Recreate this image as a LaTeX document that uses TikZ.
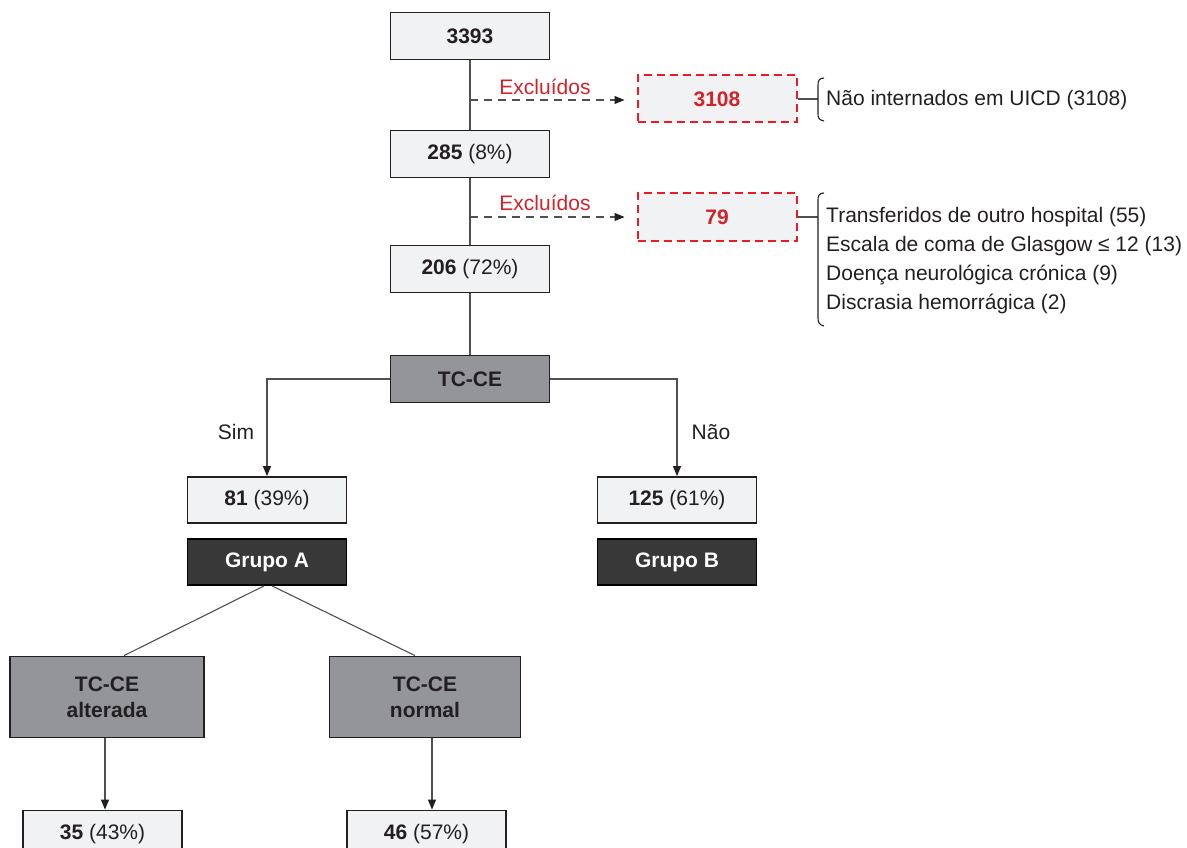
\documentclass[tikz,border=0pt]{standalone}
\usepackage{fontspec}
\setmainfont{Liberation Sans}
\usetikzlibrary{arrows.meta}
\definecolor{lightbox}{HTML}{F1F2F4}
\definecolor{midbox}{HTML}{939598}
\definecolor{darkbox}{HTML}{383838}
\definecolor{txt}{HTML}{231F20}
\definecolor{redt}{HTML}{D2232A}
\definecolor{redd}{HTML}{ED1C24}
\definecolor{conn}{HTML}{505050}
\begin{document}
\begin{tikzpicture}[x=1pt,y=-1pt,
  font=\fontsize{21}{25}\selectfont, text=txt,
  box/.style={draw=txt, line width=1.8pt, fill=lightbox, minimum width=159pt, minimum height=47pt, inner sep=0pt},
  exbox/.style={draw=redd, dashed, dash pattern=on 8pt off 5pt, line width=2pt, fill=lightbox, minimum width=159pt, minimum height=47pt, inner sep=0pt, text=redt},
  midb/.style={draw=txt, line width=1.8pt, fill=midbox, minimum width=159pt, minimum height=47pt, inner sep=0pt},
  midtall/.style={draw=txt, line width=1.8pt, fill=midbox, minimum height=81pt, inner sep=0pt, align=center, font=\fontsize{21}{26}\selectfont\bfseries},
  darkb/.style={draw=black, line width=1.8pt, fill=darkbox, minimum width=159pt, minimum height=46pt, inner sep=0pt, text=white},
  conn/.style={draw=conn, line width=1.1pt},
  arr/.style={conn, -{Triangle[length=10pt,width=8pt,color=txt]}},
  dasharr/.style={conn, dash pattern=on 8pt off 6pt, -{Triangle[length=10pt,width=8pt,color=txt]}},
  lbl/.style={inner sep=0pt},
  brace/.style={draw=txt, line width=1.1pt}
]
\useasboundingbox (0,0) rectangle (1187,848);
\clip (0,0) rectangle (1187,848);

% main column
\node[box] (n1) at (470,36) {\textbf{3393}};
\node[box] (n2) at (470,154) {\textbf{285} (8\%)};
\node[box] (n3) at (470,269) {\textbf{206} (72\%)};
\node[midb] (tc) at (470,379) {\textbf{TC-CE}};

% exclusions
\node[exbox] (e1) at (717,99) {\textbf{3108}};
\node[exbox] (e2) at (717,217) {\textbf{79}};
\node[lbl, text=redt] (x1) at (545,87) {Exclu\'idos};
\node[lbl, text=redt] (x2) at (545,203) {Exclu\'idos};

\coordinate (d1) at (470,100);
\coordinate (d2) at (470,217);
\draw[dasharr, shorten >=12pt] (d1) -- (d1 -| e1.west);
\draw[dasharr, shorten >=12pt] (d2) -- (e2.west);

% braces and reasons
\coordinate (b1) at (818,99);
\coordinate (b2) at (818,217);
\draw[conn] (e1.east) -- (b1);
\draw[conn] (e2.east) -- (b2);
\draw[brace] (824,78) .. controls (819,78) and (818,81) .. (818,85) -- (818,114) .. controls (818,118) and (819,120) .. (824,121);
\draw[brace] (824,193) .. controls (819,193) and (818,196) .. (818,200) -- (818,318) .. controls (818,322) and (819,325) .. (824,326);
\node[lbl, anchor=west] (r1) at (826,100.5) {N\~ao internados em UICD (3108)};
\node[lbl, anchor=west, align=left, font=\fontsize{21}{29}\selectfont] (r2) at (826,261)
  {Transferidos de outro hospital (55)\\
   Escala de coma de Glasgow ≤ 12 (13)\\
   Doen\c{c}a neurol\'ogica cr\'onica (9)\\
   Discrasia hemorr\'agica (2)};

\draw[conn] (n1) -- (n2);
\draw[conn] (n2) -- (n3);
\draw[conn] (n3) -- (tc);

% branches
\node[box, minimum height=46pt] (a1) at (267,500) {\textbf{81} (39\%)};
\node[box, minimum height=46pt] (a2) at (677,500) {\textbf{125} (61\%)};
\node[darkb] (ga) at (267,562) {\textbf{Grupo A}};
\node[darkb] (gb) at (677,562) {\textbf{Grupo B}};
\draw[arr] (tc.west) -| (a1.north);
\draw[arr] (tc.east) -| (a2.north);
\node[lbl] (sim) at (236,432) {Sim};
\node[lbl] (nao) at (711,432) {N\~ao};

% subgroup A
\node[midtall, minimum width=194pt] (alt) at (107,697) {TC-CE\\alterada};
\node[midtall, minimum width=191pt] (nor) at (425,697) {TC-CE\\normal};
\draw[conn] ([xshift=-3pt]ga.south) -- ([xshift=17pt]alt.north);
\draw[conn] ([xshift=5pt]ga.south) -- ([xshift=-10pt]nor.north);

\node[box] (c1) at (102.5,834) {\textbf{35} (43\%)};
\node[box] (c2) at (426.5,834) {\textbf{46} (57\%)};
\draw[arr] ([xshift=-2pt]alt.south) -- ([xshift=-2pt]alt.south |- c1.north);
\draw[arr] ([xshift=7pt]nor.south) -- ([xshift=7pt]nor.south |- c2.north);
\end{tikzpicture}
\end{document}
